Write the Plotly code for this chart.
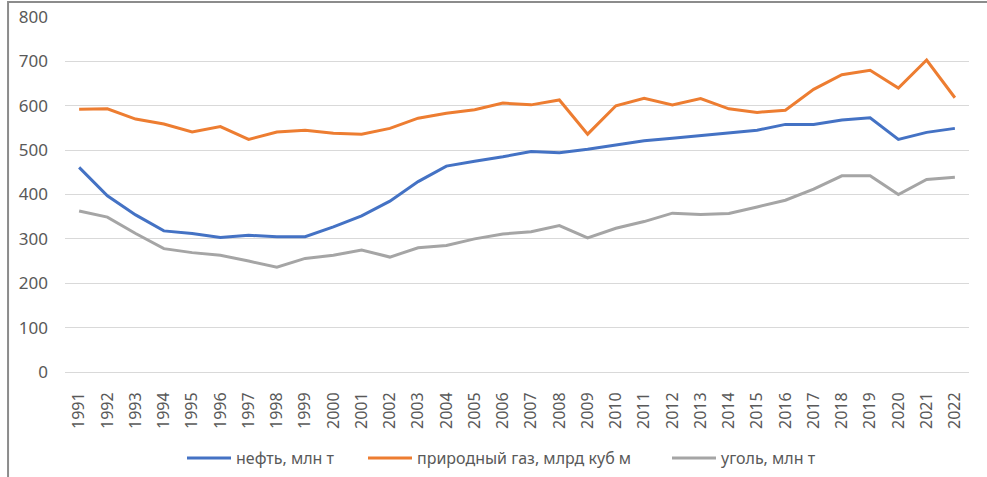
import plotly.graph_objects as go

years = [str(y) for y in range(1991, 2023)]
oil = [461, 397, 354, 318, 312, 303, 308, 305, 305, 327, 352, 385, 429, 464, 475, 485,
       497, 494, 502, 512, 521, 527, 533, 538, 545, 558, 558, 568, 573, 524, 540, 549]
gas = [592, 593, 570, 559, 541, 553, 524, 541, 545, 538, 536, 549, 572, 583, 591, 606,
       602, 613, 536, 600, 617, 602, 616, 593, 585, 590, 637, 670, 680, 640, 703, 618]
coal = [363, 349, 312, 278, 269, 263, 250, 236, 256, 263, 275, 259, 280, 285, 300, 311,
        316, 330, 302, 324, 339, 358, 355, 357, 372, 387, 412, 442, 442, 400, 434, 439]
names = ["нефть, млн т", "природный газ, млрд куб м", "уголь, млн т"]
colors = ["#4472C4", "#ED7D31", "#A5A5A5"]
yticks = [0, 100, 200, 300, 400, 500, 600, 700, 800]

W, H = 987, 477
legend_ids = ["legend", "legend2", "legend3"]
legend_px = [182, 363, 667]

fig = go.Figure()
for vals, name, col, lg in zip([oil, gas, coal], names, colors, legend_ids):
    fig.add_trace(go.Scatter(x=years, y=vals, name=name, mode="lines", legend=lg,
                             line=dict(color=col, width=3)))

font = "Noto Sans, Liberation Sans, sans-serif"
legend_common = dict(orientation="h", xanchor="left", xref="container",
                     y=1 - 458 / H, yanchor="middle", yref="container", itemwidth=44,
                     font=dict(size=16, color="#595959"), bgcolor="rgba(0,0,0,0)")
layout_legends = {lg: dict(x=px / W, **legend_common) for lg, px in zip(legend_ids, legend_px)}

fig.update_layout(
    width=W, height=H,
    margin=dict(l=65, r=18, t=17, b=105, autoexpand=False),
    paper_bgcolor="white", plot_bgcolor="white",
    font=dict(family=font, size=16, color="#595959"),
    showlegend=True,
    xaxis=dict(type="category", range=[-0.5, len(years) - 0.5], tickangle=-90,
               showgrid=False, showline=False, automargin=False,
               ticks="outside", ticklen=13, tickcolor="rgba(0,0,0,0)",
               tickfont=dict(size=16, color="#595959")),
    yaxis=dict(range=[0, 800], tickvals=yticks, showgrid=True, gridcolor="#D9D9D9",
               gridwidth=1, zeroline=True, zerolinecolor="#D9D9D9", zerolinewidth=1,
               showline=False, ticks="", ticklabelstandoff=16, automargin=False,
               tickfont=dict(size=17, color="#595959")),
    shapes=[
        dict(type="rect", xref="paper", yref="paper", x0=-0.063, x1=1.1,
             y0=-0.4, y1=1.042, line=dict(color="#8C8C8C", width=2),
             fillcolor="rgba(0,0,0,0)", layer="below"),
    ],
    **layout_legends,
)

fig.write_html("out.html", config={"displayModeBar": False},
               post_script="document.body.style.margin='0';")
